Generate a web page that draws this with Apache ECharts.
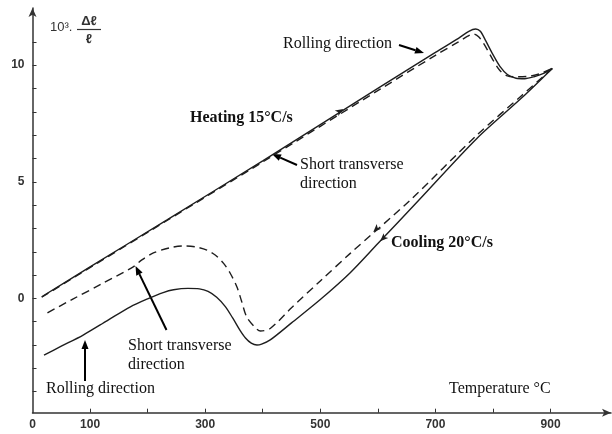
<!DOCTYPE html>
<html><head><meta charset="utf-8">
<script src="https://cdn.jsdelivr.net/npm/echarts@6/dist/echarts.min.js"></script>
<style>html,body{margin:0;padding:0;background:#fff}#c{width:612px;height:434px}</style>
</head><body><div id="c"></div>
<script>
// ---- data (temperature °C, 10^3·Δl/l) ----
const heatRollT = [16, 100, 233, 400, 604, 700, 740, 758, 770, 778, 787, 800, 812, 825, 840, 855, 871, 888, 903];
const heatRollV = [0.07, 1.35, 3.36, 5.9, 9.07, 10.55, 11.15, 11.45, 11.55, 11.45, 11.06, 10.45, 9.95, 9.6, 9.44, 9.42, 9.5, 9.65, 9.86];
const heatShortT = [16, 233, 400, 604, 700, 740, 756, 766, 775, 785, 800, 812, 825, 840, 860, 880, 903];
const heatShortV = [0.05, 3.33, 5.85, 8.97, 10.42, 11.0, 11.24, 11.34, 11.22, 10.88, 10.22, 9.77, 9.54, 9.5, 9.52, 9.62, 9.86];
const coolRollT = [903, 850, 772, 671, 600, 552, 500, 450, 413, 398, 390, 380, 370, 360, 348, 335, 320, 305, 290, 270, 245, 227, 200, 170, 130, 88, 50, 20];
const coolRollV = [9.86, 8.6, 6.86, 4.21, 2.35, 1.1, -0.05, -1.05, -1.78, -1.96, -2.0, -1.92, -1.7, -1.35, -0.85, -0.35, 0.05, 0.3, 0.41, 0.43, 0.37, 0.25, -0.02, -0.36, -0.95, -1.57, -2.05, -2.43];
const coolShortT = [903, 850, 772, 656, 552, 500, 450, 413, 396, 385, 372, 363, 355, 343, 332, 318, 303, 285, 262, 240, 210, 190, 175, 120, 70, 22];
const coolShortV = [9.86, 8.7, 7.0, 4.21, 1.93, 0.75, -0.4, -1.29, -1.4, -1.2, -0.79, -0.1, 0.5, 1.1, 1.5, 1.85, 2.07, 2.2, 2.25, 2.18, 1.95, 1.65, 1.35, 0.62, -0.03, -0.67];
const xTickLabels = [0, 100, 300, 500, 700, 900];
const yTickLabels = [0, 5, 10];
const yTicks = [-4, -3, -2, -1, 0, 1, 2, 3, 4, 5, 6, 7, 8, 9, 10, 11];

const zip = (a, b) => a.map((t, i) => [t, b[i]]);
const ink = '#1e1e1e';
const serif = '"Liberation Serif", "Times New Roman", serif';
const sans = '"Liberation Sans", Arial, sans-serif';

const chart = echarts.init(document.getElementById('c'), null, {renderer: 'canvas'});

function lineSeries(data, dashed, marks) {
  return {
    type: 'line', data: data, showSymbol: false, smooth: 0.3, silent: true,
    lineStyle: {color: ink, width: 1.4, type: dashed ? [8, 5] : 'solid'},
    markPoint: marks ? {silent: true, symbol: 'arrow', symbolSize: [5, 8], itemStyle: {color: ink}, label: {show: false}, data: marks} : undefined
  };
}

chart.setOption({
  animation: false,
  backgroundColor: '#fff',
  grid: {left: 32.5, right: 1, top: 8, bottom: 21.3, containLabel: false},
  xAxis: {
    type: 'value', min: 0, max: 1005, interval: 100,
    axisLine: {show: true, onZero: false, symbol: ['none', 'arrow'], symbolSize: [6, 9], lineStyle: {color: '#333', width: 1.5}},
    axisTick: {show: true, inside: true, length: 4, lineStyle: {color: '#333'}, customValues: [100,200,300,400,500,600,700,800,900]},
    axisLabel: {margin: 6, color: '#333', fontFamily: sans, fontSize: 12, fontWeight: 'bold', customValues: xTickLabels, formatter: v => String(v)},
    splitLine: {show: false}
  },
  yAxis: {
    type: 'value', min: -4.9, max: 12.45,
    axisLine: {show: true, onZero: false, symbol: ['none', 'arrow'], symbolSize: [6, 9], lineStyle: {color: '#333', width: 1.5}},
    axisTick: {show: true, inside: true, length: 4, lineStyle: {color: '#333'}, customValues: yTicks},
    axisLabel: {margin: 8, color: '#333', fontFamily: sans, fontSize: 12, fontWeight: 'bold', customValues: yTickLabels, formatter: v => String(v)},
    splitLine: {show: false}
  },
  series: [
    lineSeries(zip(heatRollT, heatRollV), false, [{coord: [540, 8.12], symbolRotate: -58}]),
    lineSeries(zip(heatShortT, heatShortV), true),
    lineSeries(zip(coolRollT, coolRollV), false, [{coord: [604, 2.45], symbolRotate: 134}]),
    lineSeries(zip(coolShortT, coolShortV), true, [{coord: [592, 2.85], symbolRotate: 134}])
  ]
});

function arrow(x1, y1, x2, y2, w) {
  const a = Math.atan2(y2 - y1, x2 - x1), L = 9, H = 3.5;
  const bx = x2 - L * Math.cos(a), by = y2 - L * Math.sin(a);
  return [
    {type: 'line', silent: true, shape: {x1: x1, y1: y1, x2: bx, y2: by}, style: {stroke: '#000', lineWidth: w || 2}},
    {type: 'polygon', silent: true, shape: {points: [[x2, y2], [bx - H * Math.sin(a), by + H * Math.cos(a)], [bx + H * Math.sin(a), by - H * Math.cos(a)]]}, style: {fill: '#000'}}
  ];
}
function txt(x, y, s, size, bold, align) {
  return {type: 'text', silent: true, x: x, y: y, style: {text: s, fill: '#111', font: (bold ? 'bold ' : '') + size + 'px ' + serif, textAlign: align || 'left', textVerticalAlign: 'middle'}};
}

const g = [];
// y-axis title 10^3·Δℓ/ℓ
g.push({type: 'text', silent: true, x: 50, y: 27, style: {text: '10³.', fill: '#333', font: '13px ' + sans, textVerticalAlign: 'middle'}});
g.push({type: 'text', silent: true, x: 89, y: 21, style: {text: 'Δℓ', fill: '#333', font: 'bold 13px ' + sans, textAlign: 'center', textVerticalAlign: 'middle'}});
g.push({type: 'line', silent: true, shape: {x1: 77, y1: 29.5, x2: 101, y2: 29.5}, style: {stroke: '#333', lineWidth: 1.2}});
g.push({type: 'text', silent: true, x: 89, y: 39, style: {text: 'ℓ', fill: '#333', font: 'bold 13px ' + sans, textAlign: 'center', textVerticalAlign: 'middle'}});

g.push(txt(283, 44, 'Rolling direction', 16));
g.push(...arrow(399, 45, 424, 53, 2));
g.push(txt(190, 118, 'Heating 15°C/s', 16, true));
g.push(txt(300, 165, 'Short transverse', 16));
g.push(txt(300, 184, 'direction', 16));
g.push(...arrow(297, 165, 272, 154, 2));
g.push(txt(391, 243, 'Cooling 20°C/s', 16, true));
g.push(txt(128, 346, 'Short transverse', 16));
g.push(txt(128, 365, 'direction', 16));
g.push(...arrow(166.5, 330, 135.5, 266, 2));
g.push(txt(46, 389, 'Rolling direction', 16));
g.push(...arrow(85, 381, 85, 340, 2));
g.push(txt(449, 389, 'Temperature °C', 16));
chart.setOption({graphic: g});
</script></body></html>
